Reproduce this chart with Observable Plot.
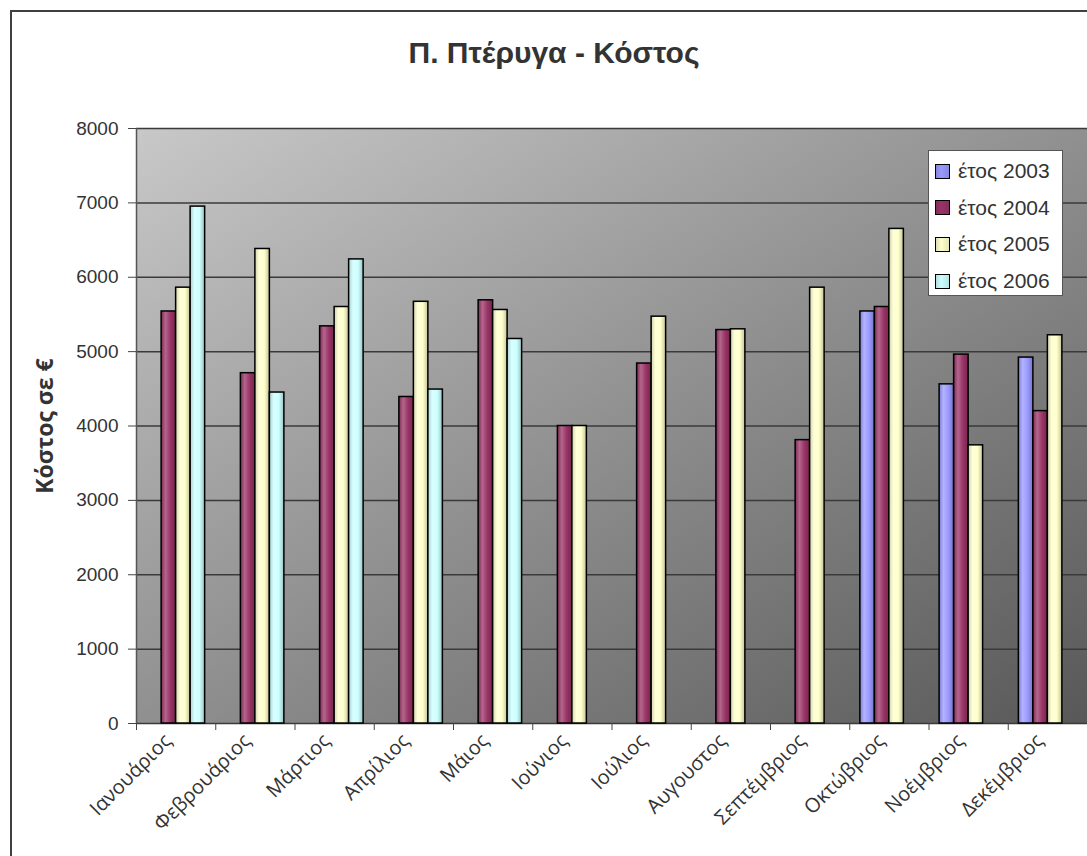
<!DOCTYPE html>
<html>
<head>
<meta charset="utf-8">
<script src="https://cdn.jsdelivr.net/npm/d3@7"></script>
<script src="https://cdn.jsdelivr.net/npm/@observablehq/plot@0.6"></script>
<style>
  body { margin: 0; background: #fff; font-family: "Liberation Sans", Arial, sans-serif; }
  #wrap { position: relative; width: 1087px; height: 856px; overflow: hidden; }
  #border { position: absolute; left: 10px; top: 10px; width: 1200px; height: 1000px;
            border: 2px solid #404040; box-sizing: border-box; }
  #title { position: absolute; left: 0; top: 38px; width: 1108px; text-align: center;
           font-weight: bold; font-size: 30px; line-height: 30px; color: #333; }
  #chart { position: absolute; left: 0; top: 0; }
  #legend { position: absolute; left: 928px; top: 150px; width: 135px; height: 146px;
            background: #fff; border: 1px solid #555; box-sizing: border-box; }
  .item { position: absolute; left: 6px; height: 20px; display: flex; align-items: center;
          font-size: 21px; color: #333; white-space: nowrap; }
  .sw { width: 13px; height: 13px; border: 1.5px solid #000; margin-right: 8px; box-sizing: content-box; }
  #defs { position: absolute; width: 0; height: 0; }
</style>
</head>
<body>
<svg id="defs" aria-hidden="true">
  <defs>
    <linearGradient id="bg" x1="0" y1="0" x2="1" y2="1">
      <stop offset="0" stop-color="#c8c8c8"/>
      <stop offset="1" stop-color="#585858"/>
    </linearGradient>
  </defs>
</svg>
<div id="wrap">
  <div id="border"></div>
  <div id="title">Π. Πτέρυγα - Κόστος</div>
  <div id="chart"></div>
  <div id="legend"></div>
</div>
<script>
// Monthly cost per year (€)
const months = ["Ιανουάριος", "Φεβρουάριος", "Μάρτιος", "Απρίλιος", "Μάιος", "Ιούνιος",
                "Ιούλιος", "Αυγουστος", "Σεπτέμβριος", "Οκτώβριος", "Νοέμβριος", "Δεκέμβριος"];
const series = ["έτος 2003", "έτος 2004", "έτος 2005", "έτος 2006"];
const cost2003 = [null, null, null, null, null, null, null, null, null, 5540, 4560, 4920];
const cost2004 = [5540, 4710, 5340, 4390, 5690, 4000, 4840, 5290, 3810, 5600, 4960, 4200];
const cost2005 = [5860, 6380, 5600, 5670, 5560, 4000, 5470, 5300, 5860, 6650, 3740, 5220];
const cost2006 = [6950, 4450, 6240, 4490, 5170, null, null, null, null, null, null, null];
const yTicks = [0, 1000, 2000, 3000, 4000, 5000, 6000, 7000, 8000];
const yLabel = "Κόστος σε €";

const seriesValues = [cost2003, cost2004, cost2005, cost2006];
const baseColors = ["#9999ff", "#993366", "#ffffcc", "#ccffff"];

// Shaded fills for the bars (darker edges, lighter left-centre)
const defs = document.querySelector("#defs defs");
baseColors.forEach((c, s) => {
  const base = d3.color(c);
  const stops = [
    [0, base.darker(0.55)],
    [0.3, d3.interpolateRgb(base, "#fff")(0.25)],
    [0.65, base],
    [1, base.darker(0.75)]
  ];
  const g = document.createElementNS("http://www.w3.org/2000/svg", "linearGradient");
  g.setAttribute("id", "bar" + s);
  g.setAttribute("x1", "0"); g.setAttribute("x2", "1");
  g.setAttribute("y1", "0"); g.setAttribute("y2", "0");
  for (const [o, col] of stops) {
    const st = document.createElementNS("http://www.w3.org/2000/svg", "stop");
    st.setAttribute("offset", o);
    st.setAttribute("stop-color", d3.color(col).formatHex());
    g.appendChild(st);
  }
  defs.appendChild(g);
});

const rows = [];
seriesValues.forEach((vals, s) => vals.forEach((v, m) => {
  if (v != null) rows.push({month: m, s, series: series[s], value: v});
}));

// Four bars side by side inside each month slot
const groupOffset = 0.134;
const barW = 0.183;

const barMarks = series.map((name, s) =>
  Plot.rect(rows.filter(d => d.s === s), {
    x1: d => d.month + groupOffset + d.s * barW,
    x2: d => d.month + groupOffset + (d.s + 1) * barW,
    y1: 0,
    y2: "value",
    fill: `url(#bar${s})`,
    stroke: "#000",
    strokeWidth: 1.5
  })
);

const chart = Plot.plot({
  width: 1087,
  height: 856,
  marginTop: 128,
  marginBottom: 133,
  marginLeft: 136,
  marginRight: 0,
  style: {fontFamily: "Liberation Sans, Arial, sans-serif", background: "transparent", color: "#333"},
  x: {type: "linear", domain: [0, 12]},
  y: {domain: [0, 8000]},
  marks: [
    Plot.frame({fill: "url(#bg)", stroke: null}),
    Plot.ruleY(yTicks, {stroke: "#3a3a3a", strokeWidth: 1.5}),
    ...barMarks,
    Plot.ruleX([0], {stroke: "#555", strokeWidth: 1.5}),
    Plot.axisY({ticks: yTicks, tickFormat: d => String(d), label: null,
                tickSize: 8, tickPadding: 10, fontSize: 19, stroke: "#444", fill: "#333"}),
    Plot.axisX({ticks: d3.range(13), tickSize: 7, tickFormat: () => "", label: null, stroke: "#444"}),
    Plot.axisX({
      ticks: d3.range(12).map(i => i + 0.5),
      tickFormat: t => months[Math.floor(t)], label: null,
      tickSize: 0, tickPadding: 14, tickRotate: -45, dx: -8,
      fontSize: 20, fontFamily: "Open Sans", fill: "#333"
    }),
    Plot.text([yLabel], {
      text: d => d, frameAnchor: "left", textAnchor: "middle", dx: -91, rotate: -90,
      fontSize: 23, fontWeight: "bold", fontFamily: "Open Sans", fill: "#333"
    })
  ]
});
document.getElementById("chart").appendChild(chart);

// Legend
const legend = document.getElementById("legend");
series.forEach((name, s) => {
  const item = document.createElement("div");
  item.className = "item";
  item.style.top = (10 + s * 36.7) + "px";
  const sw = document.createElement("span");
  sw.className = "sw";
  sw.style.background = `linear-gradient(90deg, ${d3.color(baseColors[s]).darker(0.4)} 0%, ${baseColors[s]} 40%, ${d3.color(baseColors[s]).darker(0.3)} 100%)`;
  const label = document.createElement("span");
  label.textContent = name;
  item.appendChild(sw);
  item.appendChild(label);
  legend.appendChild(item);
});
</script>
</body>
</html>
